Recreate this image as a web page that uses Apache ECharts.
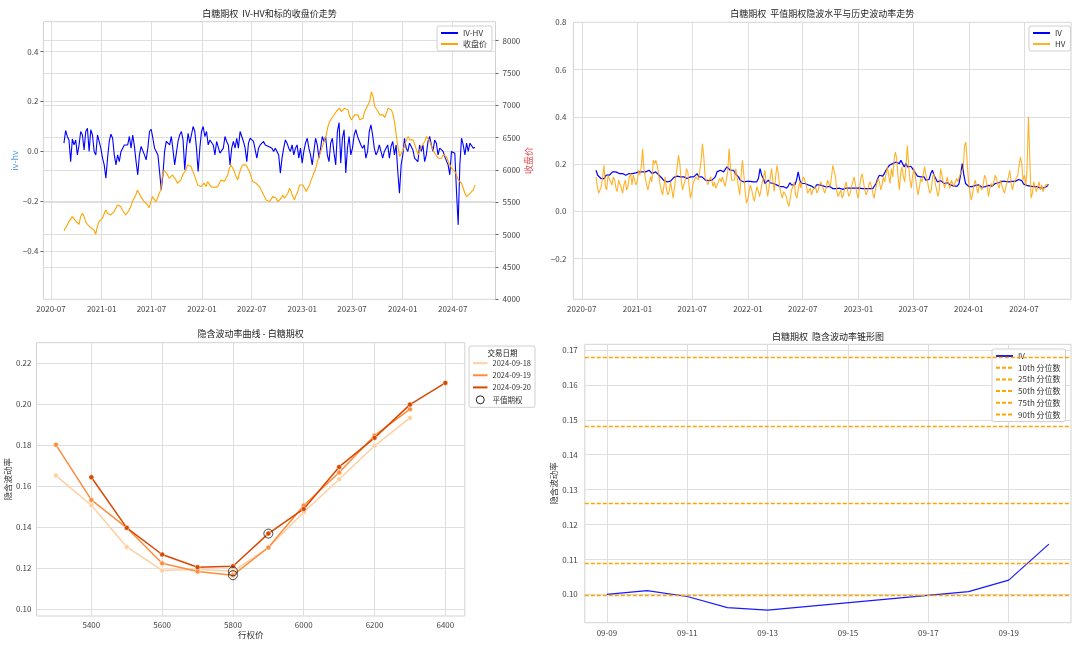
<!DOCTYPE html>
<html><head><meta charset="utf-8">
<script src="https://cdn.jsdelivr.net/npm/echarts@6/dist/echarts.min.js"></script>
<style>html,body{margin:0;padding:0;background:#fff}#c{width:1080px;height:646px}</style>
</head><body><div id="c"></div>
<script>
// ================= DATA =================
// daily series are read off the picture at (roughly) even date spacing between these two dates
const seriesStart = '2020-08-17';
const seriesEnd = '2024-09-20';

// top-left: IV-HV (left axis)
const ivhvValues = [0.032,0.083,0.059,0.045,-0.042,0.049,0.025,0.045,-0.015,0.025,
0.079,0.065,0.005,0.079,0.092,-0.001,0.086,0.065,-0.001,-0.015,
0.065,0.072,0.012,-0.028,-0.055,-0.109,-0.028,0.039,0.068,0.052,
-0.015,-0.055,-0.015,-0.042,-0.001,-0.008,0.025,0.032,0.025,0.059,
0.012,0.065,0.019,-0.042,-0.095,-0.015,0.019,0.012,-0.015,-0.035,
0.012,0.079,0.088,0.052,0.012,-0.001,-0.015,-0.082,-0.155,-0.095,
-0.001,0.039,0.045,0.025,0.059,0.005,-0.055,-0.008,0.039,0.065,
0.079,0.045,-0.075,0.012,0.072,0.032,0.039,
0.099,0.079,0.012,-0.082,0.012,0.079,0.099,0.059,0.079,0.025,
0.045,0.052,0.025,-0.015,0.039,0.045,-0.008,-0.015,0.012,0.059,
0.039,0.025,-0.055,0.012,0.039,0.012,0.052,0.012,0.079,0.086,
0.039,0.012,-0.042,0.032,0.052,0.059,0.039,0.045,-0.028,0.012,
0.025,0.019,0.039,0.025,0.032,0.019,0.025,0.012,-0.001,0.012,
-0.001,-0.015,-0.088,-0.028,0.012,0.045,0.032,0.012,-0.001,0.025,
-0.015,0.012,0.025,-0.028,0.012,-0.048,-0.001,0.032,0.052,0.012,
-0.015,-0.055,-0.001,0.052,0.025,-0.028,0.012,0.059,0.039,0.059,
-0.015,-0.042,0.032,0.052,-0.008,-0.055,0.079,0.115,
-0.048,0.052,0.086,-0.088,0.012,0.059,-0.015,0.012,0.065,0.086,
0.059,0.052,0.025,0.012,0.025,-0.028,-0.001,0.079,0.106,0.065,
0.012,-0.015,-0.001,0.025,0.032,-0.028,-0.001,0.012,0.025,-0.028,
0.019,0.039,-0.015,0.025,-0.082,-0.169,-0.055,-0.015,0.052,0.012,
-0.001,0.032,0.019,0.005,-0.028,-0.022,-0.042,0.025,-0.001,0.025,
-0.042,-0.015,0.039,0.059,0.025,-0.001,0.045,0.032,-0.015,0.012,
0.012,-0.001,-0.022,-0.028,-0.055,-0.095,-0.001,-0.001,-0.008,-0.162,
-0.296,-0.055,0.052,0.025,-0.015,0.032,-0.001,0.032,0.025,0.012,
0.015];

// top-left: underlying close price (right axis)
const closeValues = [5062,5062,5150,5202,5212,5279,5279,5212,5202,5160,
5279,5331,5279,5202,5160,5150,5109,5099,5073,5006,
5124,5202,5202,5253,5320,5382,5331,5356,5305,5279,
5356,5382,5460,5460,5434,5382,5356,5305,5331,5382,
5434,5511,5563,5614,5692,5666,5589,5563,5511,5511,
5460,5418,5511,5589,5563,5511,5563,5640,5692,5924,
6001,5975,5924,5872,5872,5924,5882,5847,5795,5821,
5847,5924,5950,6001,6079,6095,6053,6027,
5924,5847,5769,5743,5743,5769,5795,5743,5821,5795,
5743,5717,5728,5717,5743,5769,5847,5873,5821,5847,
5924,6027,6079,6053,5976,5898,5847,5950,6027,6079,
6089,6079,6027,5976,5898,5821,5795,5795,5769,5744,
5692,5666,5589,5537,5511,5511,5537,5589,5615,5563,
5511,5537,5563,5615,5563,5537,5640,5718,5666,5589,
5537,5615,5666,5769,5795,5769,5744,5666,5718,5769,
5847,5873,5976,6053,6156,6234,6311,6389,6466,6543,
6672,6750,6776,6827,6853,6905,6930,6956,
6905,6930,6956,6966,6930,6827,6776,6801,6853,6879,
6853,6776,6750,6801,6905,6956,6982,7059,7210,7137,
6982,6956,6905,6853,6827,6853,6812,6879,6956,6956,
6930,6853,6724,6518,6337,6208,6234,6311,6389,6466,
6518,6466,6492,6466,6389,6311,6234,6260,6363,6389,
6440,6518,6492,6440,6363,6337,6260,6234,6182,6156,
6182,6234,6260,6208,6131,6079,6027,6002,5976,5924,
5847,5847,5795,5718,5640,5589,5615,5640,5640,5692,
5769];

// top-right: ATM implied volatility
const ivValues = [0.174,0.153,0.146,0.139,0.146,0.139,0.153,0.146,0.153,0.153,
0.167,0.174,0.167,0.160,0.160,0.153,0.160,0.153,0.153,0.153,
0.160,0.153,0.160,0.160,0.163,0.160,0.167,0.163,0.167,0.167,
0.167,0.167,0.174,0.167,0.160,0.167,0.167,0.160,0.153,0.146,
0.139,0.130,0.128,0.125,0.122,0.128,0.135,0.144,0.146,0.149,
0.149,0.146,0.146,0.146,0.146,0.139,0.139,0.146,0.139,0.146,
0.153,0.160,0.146,0.139,0.146,0.139,0.132,0.132,0.130,0.135,
0.132,0.139,0.146,0.167,0.167,0.174,0.181,0.167,0.174,0.188,
0.181,0.174,0.181,
0.174,0.160,0.153,0.146,0.132,0.130,0.125,0.125,0.127,0.125,
0.127,0.128,0.125,0.132,0.125,0.139,0.181,0.153,0.139,0.118,
0.125,0.132,0.121,0.118,0.118,0.112,0.112,0.107,0.105,0.098,
0.105,0.112,0.098,0.107,0.121,0.112,0.118,0.112,0.132,0.167,
0.132,0.118,0.125,0.118,0.116,0.112,0.116,0.107,0.102,0.098,
0.112,0.116,0.112,0.110,0.108,0.105,0.103,0.104,0.106,0.102,
0.096,0.093,0.096,0.099,0.098,0.096,0.093,0.096,0.099,0.096,
0.098,0.096,0.099,0.096,0.098,0.096,0.098,0.099,0.096,0.093,
0.096,0.099,0.096,0.093,0.096,0.102,0.118,0.139,0.153,0.160,
0.149,0.160,0.174,0.185,0.195,
0.188,0.202,0.195,0.209,0.216,0.202,0.216,0.202,0.188,0.202,
0.188,0.181,0.191,0.181,0.174,0.160,0.149,0.153,0.146,0.149,
0.146,0.132,0.125,0.135,0.160,0.174,0.153,0.139,0.125,0.121,
0.130,0.125,0.118,0.112,0.121,0.118,0.112,0.110,0.107,0.110,
0.107,0.116,0.153,0.202,0.153,0.118,0.112,0.105,0.102,0.105,
0.107,0.110,0.116,0.112,0.105,0.102,0.105,0.105,0.105,0.110,
0.107,0.107,0.110,0.118,0.124,0.121,0.124,0.127,0.124,0.127,
0.130,0.125,0.127,0.127,0.130,0.127,0.132,0.135,0.139,0.130,
0.116,0.110,0.110,0.110,0.107,0.107,0.105,0.107,0.105,0.100,
0.099,0.100,0.099,0.102,0.105,0.116];

// top-right: historical volatility
const hvValues = [0.146,0.105,0.077,0.091,0.105,0.146,0.195,0.105,0.091,0.153,
0.160,0.125,0.112,0.146,0.132,0.098,0.084,0.132,0.139,0.098,
0.077,0.112,0.132,0.091,0.105,0.146,0.160,0.112,0.153,0.132,
0.112,0.125,0.174,0.153,0.188,0.265,0.181,0.146,0.112,0.091,
0.098,0.146,0.125,0.216,0.202,0.216,0.195,0.160,0.118,0.091,
0.070,0.105,0.146,0.091,0.070,0.084,0.125,0.091,0.056,0.105,
0.146,0.188,0.237,0.202,0.132,0.091,0.084,0.132,0.181,0.167,
0.105,0.056,0.084,0.118,0.132,0.146,0.153,0.132,0.174,0.216,
0.286,0.230,0.146,0.132,0.112,0.105,0.146,0.132,0.105,0.125,
0.098,0.112,0.125,0.139,0.125,0.146,0.125,0.105,0.112,0.167,
0.265,0.188,0.132,0.125,
0.132,0.181,0.146,0.105,0.070,0.063,0.216,0.160,0.091,0.035,
0.049,0.084,0.112,0.091,0.063,0.042,0.077,0.105,0.084,0.063,
0.091,0.125,0.146,0.174,0.105,0.063,0.098,0.146,0.181,0.125,
0.084,0.146,0.195,0.160,0.105,0.077,0.056,0.084,0.091,0.063,
0.035,0.021,0.056,0.091,0.105,0.125,0.070,0.056,0.091,0.125,
0.098,0.132,0.146,0.153,0.112,0.077,0.084,0.098,0.070,0.091,
0.084,0.105,0.077,0.091,0.112,0.125,0.118,0.091,0.077,0.098,
0.132,0.118,0.105,0.146,0.195,0.202,0.146,0.084,0.063,0.077,
0.091,0.056,0.070,0.105,0.125,0.091,0.063,0.077,0.105,0.125,
0.146,0.112,0.077,0.056,0.098,0.139,0.160,0.125,0.091,0.070,
0.084,0.112,0.125,0.105,0.077,0.056,0.091,0.118,0.139,0.125,
0.091,0.112,0.146,0.125,0.160,0.188,0.153,0.118,
0.181,0.146,0.216,0.251,0.223,0.146,0.091,0.160,0.188,0.146,
0.125,0.195,0.279,0.195,0.132,0.098,0.153,0.181,0.146,0.105,
0.070,0.098,0.139,0.125,0.160,0.188,0.153,0.132,0.098,0.077,
0.091,0.146,0.160,0.118,0.091,0.063,0.091,0.181,0.153,0.125,
0.098,0.118,0.146,0.112,0.098,0.132,0.125,0.105,0.112,0.139,
0.125,0.146,0.160,0.153,0.181,0.279,0.293,0.202,0.125,0.084,
0.049,0.070,0.112,0.132,0.105,0.077,0.112,0.118,0.091,0.112,
0.153,0.139,0.105,0.063,0.098,0.118,0.105,0.125,0.153,0.139,
0.112,0.098,0.132,0.112,0.091,0.077,0.105,0.125,0.146,0.174,
0.118,0.091,0.118,0.132,0.125,0.153,0.195,0.230,0.202,0.132,
0.153,0.105,0.188,0.400,0.230,0.056,0.077,0.125,0.105,0.084,
0.105,0.125,0.091,0.112,0.084,0.098,0.112,0.105,0.112];

const monthTickDates = ['2020-07-01','2021-01-01','2021-07-01','2022-01-01','2022-07-01','2023-01-01','2023-07-01','2024-01-01','2024-07-01'];
const monthTickLabels = ['2020-07','2021-01','2021-07','2022-01','2022-07','2023-01','2023-07','2024-01','2024-07'];
const ivhvTicks = [-0.4,-0.2,0,0.2,0.4];
const closeTicks = [4000,4500,5000,5500,6000,6500,7000,7500,8000];
const volTicks = [-0.2,0,0.2,0.4,0.6,0.8];

// bottom-left: IV smile
const smileDates = ['2024-09-18','2024-09-19','2024-09-20'];
const strikes18 = [5300,5400,5500,5600,5700,5800,5900,6000,6100,6200,6300];
const iv18 = [0.1652,0.1507,0.1304,0.1189,0.1195,0.1185,0.1300,0.1473,0.1634,0.1797,0.1933];
const strikes19 = [5300,5400,5500,5600,5700,5800,5900,6000,6100,6200,6300];
const iv19 = [0.1802,0.1533,0.1397,0.1224,0.1184,0.1166,0.1301,0.1506,0.1667,0.1847,0.1976];
const strikes20 = [5400,5500,5600,5700,5800,5900,6000,6100,6200,6300,6400];
const iv20 = [0.1644,0.1397,0.1267,0.1205,0.1210,0.1369,0.1489,0.1694,0.1836,0.1998,0.2104];
const atmStrikes = [5800,5800,5900];
const atmIV = [0.1185,0.1166,0.1369];
const strikeTicks = [5400,5600,5800,6000,6200,6400];
const smileTicks = [0.10,0.12,0.14,0.16,0.18,0.20,0.22];

// bottom-right: IV cone
const coneDates = ['2024-09-09','2024-09-10','2024-09-11','2024-09-12','2024-09-13','2024-09-18','2024-09-19','2024-09-20'];
const coneIV = [0.1000,0.1011,0.0994,0.0962,0.0955,0.1008,0.1041,0.1144];
const coneName = 'IV ';
const pctNames = ['10th 分位数','25th 分位数','50th 分位数','75th 分位数','90th 分位数'];
const pctValues = [0.0999,0.1088,0.1260,0.1480,0.1679];
const coneTickDates = ['2024-09-09','2024-09-11','2024-09-13','2024-09-15','2024-09-17','2024-09-19'];
const coneTickLabels = ['09-09','09-11','09-13','09-15','09-17','09-19'];
const coneTicks = [0.10,0.11,0.12,0.13,0.14,0.15,0.16,0.17];

// ================= HELPERS / STYLE =================
const FONT = "'Noto Sans CJK SC','Noto Sans',sans-serif";
const ts = s => { const [y,m,d] = s.split('-').map(Number); return new Date(y, m-1, d).getTime(); };
const spread = (vals, a, b) => { const t0 = ts(a), t1 = ts(b); return vals.map((v,i) => [t0 + (t1-t0)*i/(vals.length-1), v]); };
const pairs = (xs, ys) => xs.map((x,i) => [x, ys[i]]);
const minus = s => s.replace('-', '\u2212');
const span = ts(seriesEnd) - ts(seriesStart);
const tMin = ts(seriesStart) - 0.05*span, tMax = ts(seriesEnd) + 0.05*span;
const cSpan = ts(coneDates[coneDates.length-1]) - ts(coneDates[0]);
const cMin = ts(coneDates[0]) - 0.05*cSpan, cMax = ts(coneDates[coneDates.length-1]) + 0.05*cSpan;
const monthTs = monthTickDates.map(ts);
const coneTs = coneTickDates.map(ts);
const lookup = (arrTs, labels) => v => { let best = 0; arrTs.forEach((t,i)=>{ if (Math.abs(t-v) < Math.abs(arrTs[best]-v)) best = i; }); return labels[best]; };

const GRID_LINE = {color:'#dedede', width:1};
const LBL = {fontSize:8, color:'#444', fontFamily:FONT};
const NAME = {fontSize:8.5, color:'#333', fontFamily:FONT};
const BLUE = '#0000ff', ORANGE = '#ffa500';
const ORANGES = ['#fdd0a2','#fd8d3c','#d94801'];
const gridBox = {show:true, borderColor:'#d2d2d2', borderWidth:1, backgroundColor:'transparent', outerBoundsMode:'none', containLabel:false};

const legendBase = {
  orient:'vertical', itemWidth:17, itemHeight:8, itemGap:3, padding:[3,5,3,3],
  borderColor:'#d0d0d0', borderWidth:1, borderRadius:2, backgroundColor:'rgba(255,255,255,0.9)',
  itemStyle:{opacity:0},
  textStyle:{fontSize:8, color:'#333', fontFamily:FONT, lineHeight:8}, selectedMode:false
};

function valAxis(extra, ticks, fmt, margin, showTick) {
  return Object.assign({
    type:'value', axisLine:{show:false},
    axisTick:{show:!!showTick, length:3, customValues:ticks, lineStyle:{color:'#666'}},
    axisLabel:Object.assign({customValues:ticks, formatter:fmt, margin:margin, hideOverlap:false}, LBL),
    splitLine:{show:true, lineStyle:GRID_LINE}
  }, extra);
}

const option = {
  animation:false,
  backgroundColor:'#fff',
  textStyle:{fontFamily:FONT},
  grid:[
    Object.assign({left:43.4, top:21.7, width:452.1, height:277.6}, gridBox),
    Object.assign({left:573.4, top:22.3, width:497.6, height:277}, gridBox),
    Object.assign({left:36.5, top:342.7, width:428.3, height:273.3}, gridBox),
    Object.assign({left:584.8, top:344.3, width:486.2, height:278.4}, gridBox)
  ],
  graphic:[
    {type:'text', x:269.5, y:14, z:10, style:{text:'白糖期权  IV-HV和标的收盘价走势', fill:'#222', font:'9px '+FONT, align:'center', verticalAlign:'middle'}},
    {type:'text', x:822.2, y:14, z:10, style:{text:'白糖期权  平值期权隐波水平与历史波动率走势', fill:'#222', font:'9px '+FONT, align:'center', verticalAlign:'middle'}},
    {type:'text', x:250.6, y:333.3, z:10, style:{text:'隐含波动率曲线 - 白糖期权', fill:'#222', font:'9px '+FONT, align:'center', verticalAlign:'middle'}},
    {type:'text', x:828, y:336.7, z:10, style:{text:'白糖期权  隐含波动率锥形图', fill:'#222', font:'9px '+FONT, align:'center', verticalAlign:'middle'}},
    {type:'text', x:502.4, y:352.7, z:10, style:{text:'交易日期', fill:'#222', font:'7.5px '+FONT, align:'center', verticalAlign:'middle'}}
  ],
  legend:[
    Object.assign({}, legendBase, {left:437, top:26, data:['IV-HV','收盘价']}),
    Object.assign({}, legendBase, {left:1029, top:26, data:['IV','HV']}),
    Object.assign({}, legendBase, {left:469, top:346, padding:[13,4,3,3], itemWidth:14.5, itemGap:3.7,
      textStyle:{fontSize:7.5, color:'#333', fontFamily:FONT, lineHeight:8},
      data:[smileDates[0], smileDates[1], smileDates[2],
            {name:'平值期权', icon:'circle', itemStyle:{opacity:1, color:'rgba(0,0,0,0)', borderColor:'#222', borderWidth:1}}]}),
    Object.assign({}, legendBase, {left:992, top:349, itemGap:3.7, data:[coneName].concat(pctNames)})
  ],
  xAxis:[
    valAxis({gridIndex:0, min:tMin, max:tMax}, monthTs, lookup(monthTs, monthTickLabels), 6, false),
    valAxis({gridIndex:1, min:tMin, max:tMax}, monthTs, lookup(monthTs, monthTickLabels), 6, false),
    valAxis({gridIndex:2, min:5245, max:6455, name:'行权价', nameLocation:'middle', nameGap:15, nameTextStyle:NAME},
            strikeTicks, v=>String(Math.round(v)), 5, false),
    valAxis({gridIndex:3, min:cMin, max:cMax}, coneTs, lookup(coneTs, coneTickLabels), 6, false)
  ],
  yAxis:[
    valAxis({gridIndex:0, position:'left', min:-0.595, max:0.52,
             name:'iv-hv', nameLocation:'middle', nameGap:24, nameTextStyle:{fontSize:9, color:'#5a9fd6', fontFamily:FONT}},
            ivhvTicks, v=>minus(v.toFixed(1)), 5, true),
    valAxis({gridIndex:0, position:'right', min:4000, max:8294,
             name:'收盘价', nameLocation:'middle', nameGap:27, nameTextStyle:{fontSize:9, color:'#e0474c', fontFamily:FONT}},
            closeTicks, v=>String(Math.round(v)), 7, true),
    valAxis({gridIndex:1, min:-0.372, max:0.8}, volTicks, v=>minus(v.toFixed(1)), 7, false),
    valAxis({gridIndex:2, min:0.0967, max:0.2300, name:'隐含波动率', nameLocation:'middle', nameGap:24, nameTextStyle:NAME},
            smileTicks, v=>v.toFixed(2), 5, false),
    valAxis({gridIndex:3, min:0.0919, max:0.1716, name:'隐含波动率', nameLocation:'middle', nameGap:27, nameTextStyle:NAME},
            coneTicks, v=>v.toFixed(2), 7, false)
  ],
  series:[
    {type:'line', name:'IV-HV', xAxisIndex:0, yAxisIndex:0, data:spread(ivhvValues, seriesStart, seriesEnd),
     symbol:'none', color:BLUE, lineStyle:{color:BLUE, width:1.1}, itemStyle:{color:BLUE}, z:2},
    {type:'line', name:'收盘价', xAxisIndex:0, yAxisIndex:1, data:spread(closeValues, seriesStart, seriesEnd),
     symbol:'none', color:ORANGE, lineStyle:{color:ORANGE, width:1.1}, itemStyle:{color:ORANGE}, z:3},
    {type:'line', name:'IV', xAxisIndex:1, yAxisIndex:2, data:spread(ivValues, seriesStart, seriesEnd),
     symbol:'none', color:BLUE, lineStyle:{color:BLUE, width:1.2}, itemStyle:{color:BLUE}, z:2},
    {type:'line', name:'HV', xAxisIndex:1, yAxisIndex:2, data:spread(hvValues, seriesStart, seriesEnd),
     symbol:'none', color:ORANGE, lineStyle:{color:'rgba(255,165,0,0.85)', width:1.1}, itemStyle:{color:ORANGE}, z:3},
    {type:'line', name:smileDates[0], xAxisIndex:2, yAxisIndex:3, data:pairs(strikes18, iv18), color:ORANGES[0],
     symbol:'circle', symbolSize:5, lineStyle:{color:ORANGES[0], width:1.5}, itemStyle:{color:ORANGES[0], borderColor:'#fff', borderWidth:0.5}, z:2},
    {type:'line', name:smileDates[1], xAxisIndex:2, yAxisIndex:3, data:pairs(strikes19, iv19), color:ORANGES[1],
     symbol:'circle', symbolSize:5, lineStyle:{color:ORANGES[1], width:1.5}, itemStyle:{color:ORANGES[1], borderColor:'#fff', borderWidth:0.5}, z:3},
    {type:'line', name:smileDates[2], xAxisIndex:2, yAxisIndex:3, data:pairs(strikes20, iv20), color:ORANGES[2],
     symbol:'circle', symbolSize:5, lineStyle:{color:ORANGES[2], width:1.5}, itemStyle:{color:ORANGES[2], borderColor:'#fff', borderWidth:0.5}, z:4},
    {type:'scatter', name:'平值期权', xAxisIndex:2, yAxisIndex:3, data:pairs(atmStrikes, atmIV), color:'#222',
     symbol:'circle', symbolSize:9, itemStyle:{color:'rgba(0,0,0,0)', borderColor:'#222', borderWidth:1}, z:5},
    {type:'line', name:coneName, xAxisIndex:3, yAxisIndex:4, data:pairs(coneDates.map(ts), coneIV), color:'#1a1aff',
     symbol:'none', lineStyle:{color:'#1a1aff', width:1.2}, itemStyle:{color:'#1a1aff'}, z:4}
  ].concat(pctNames.map((nm,i) => ({
     type:'line', name:nm, xAxisIndex:3, yAxisIndex:4, data:[], symbol:'none', color:ORANGE,
     lineStyle:{color:ORANGE, width:1.3, type:[4,2]}, itemStyle:{color:ORANGE}, z:3,
     markLine:{silent:true, precision:4, symbol:['none','none'], label:{show:false}, animation:false,
       itemStyle:{color:ORANGE},
       lineStyle:{color:ORANGE, width:1.3, type:[4,2], opacity:1}, data:[{yAxis:pctValues[i], lineStyle:{color:ORANGE}}]}
  })))
};

const chart = echarts.init(document.getElementById('c'), null, {renderer:'canvas', width:1080, height:646});
chart.setOption(option);
</script>
</body></html>
